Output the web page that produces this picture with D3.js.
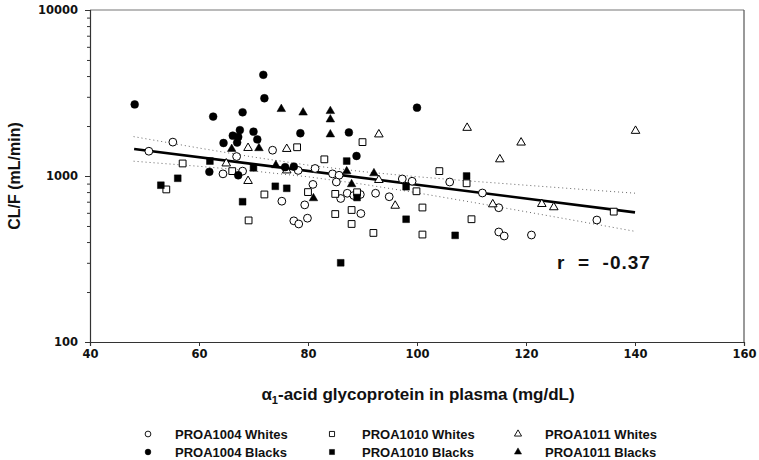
<!DOCTYPE html>
<html><head><meta charset="utf-8">
<script src="https://cdn.jsdelivr.net/npm/d3@7"></script>
<style>body{margin:0;background:#fff}svg{display:block}</style>
</head><body>
<svg id="c" width="759" height="460"></svg>
<script>
// ---- data ----
const xTicks = [40, 60, 80, 100, 120, 140, 160];
const yTicks = [100, 1000, 10000];
const yMinor = [200,300,400,500,600,700,800,900,2000,3000,4000,5000,6000,7000,8000,9000];

const whites1004 = [[50.8,1410],[55.2,1600],[66.9,1310],[73.5,1430],[64.4,1030],[68.0,1070],[78.2,1080],[81.3,1110],[84.5,1030],[85.7,1010],[97.3,960],[99.1,930],[106.0,920],[112.0,790],[80.9,890],[85.2,920],[79.4,670],[75.2,705],[79.9,557],[77.4,537],[78.3,514],[87.2,787],[86.0,732],[88.4,763],[89.6,774],[92.4,787],[94.9,750],[89.7,594],[115.0,644],[115.0,460],[116.0,435],[121.0,441],[133.0,543]];
const blacks1004 = [[48.2,2700],[71.8,4070],[72.0,2940],[62.6,2280],[68.0,2420],[67.5,1890],[66.2,1750],[67.2,1720],[67.0,1590],[70.0,1850],[70.7,1660],[64.5,1580],[78.6,1810],[87.5,1830],[100.0,2580],[88.9,1320],[75.8,1130],[77.4,1140],[61.9,1060],[67.2,1010]];
const whites1010 = [[57.0,1190],[54.0,830],[66.1,1070],[72.0,774],[69.1,540],[78.0,1490],[83.0,1260],[90.0,1600],[80.0,800],[85.0,780],[89.0,798],[85.0,590],[88.0,624],[88.0,514],[92.0,454],[99.9,809],[101.0,646],[101.0,444],[104.1,1070],[109.1,904],[110.0,549],[136.1,610]];
const blacks1010 = [[53.0,880],[56.1,969],[62.0,1230],[70.0,1120],[68.0,700],[74.0,867],[76.1,843],[87.1,1230],[89.0,742],[98.0,862],[98.0,549],[86.0,300],[107.0,439],[109.1,1000]];
const whites1011 = [[69.0,1475],[76.1,1455],[65.0,1190],[76.1,1080],[69.0,933],[93.0,1780],[93.0,946],[96.0,662],[109.2,1950],[115.2,1260],[119.1,1590],[113.9,675],[122.9,678],[125.1,648],[140.1,1870]];
const blacks1011 = [[75.1,2530],[79.1,2410],[84.1,2460],[84.1,2190],[84.1,1780],[66.0,1455],[71.0,1470],[74.1,1160],[87.1,1067],[92.1,1038],[81.0,734],[88.0,892]];

const fitX = [48.1, 140];
const fitY = [1455, 604];
const bandX = [48, 60, 70, 80, 90, 100, 110, 120, 130, 140];
const bandUpper = [1727, 1474, 1300, 1163, 1063, 990, 931, 880, 832, 788];
const bandLower = [1228, 1144, 1071, 989, 893, 792, 696, 609, 532, 464];

const legendLabels = ["PROA1004 Whites","PROA1010 Whites","PROA1011 Whites","PROA1004 Blacks","PROA1010 Blacks","PROA1011 Blacks"];

// ---- drawing ----
const svg = d3.select("#c");
const x = d3.scaleLinear().domain([40,160]).range([90,744]);
const y = d3.scaleLog().domain([100,10000]).range([342,10]);
const tickFont = "'DejaVu Sans', sans-serif";
const titleFont = "'Liberation Sans', Arial, sans-serif";

// frame (top & right)
svg.append("line").attr("x1",90).attr("x2",744).attr("y1",10).attr("y2",10).attr("stroke","#777").attr("stroke-width",1.2);
svg.append("line").attr("x1",744).attr("x2",744).attr("y1",10).attr("y2",342).attr("stroke","#555").attr("stroke-width",1.2);

// axes
const gx = svg.append("g").attr("transform","translate(0,342)")
  .call(d3.axisBottom(x).tickValues(xTicks).tickSize(4).tickPadding(4).tickFormat(d3.format("d")));
const gy = svg.append("g").attr("transform","translate(90,0)")
  .call(d3.axisLeft(y).tickValues(yTicks).tickSize(5).tickPadding(7).tickFormat(d3.format("d")));
svg.append("g").attr("transform","translate(90,0)")
  .call(d3.axisLeft(y).tickValues(yMinor).tickSize(3).tickFormat(""))
  .call(g=>g.select(".domain").remove());
svg.selectAll(".domain").attr("stroke","#333").attr("stroke-width",1.2);
svg.selectAll(".tick line").attr("stroke","#333");
[gx,gy].forEach(g=>g.selectAll("text").attr("font-family",tickFont).attr("font-weight","bold").attr("font-size",11.5).attr("fill","#111"));

// confidence band
const bandLine = (arr)=> d3.line().x((d,i)=>x(bandX[i])).y(d=>y(d))(arr);
[bandUpper, bandLower].forEach(b=>{
  svg.append("path").attr("d",bandLine(b)).attr("fill","none").attr("stroke","#666")
    .attr("stroke-width",1).attr("stroke-dasharray","1,3");
});
// regression line
svg.append("path").attr("d", d3.line().x((d,i)=>x(fitX[i])).y(d=>y(d))(fitY))
  .attr("fill","none").attr("stroke","#000").attr("stroke-width",2.6);

// points
const shapes = {
  circle: d3.symbol().type(d3.symbolCircle).size(48),
  square: d3.symbol().type(d3.symbolSquare).size(46),
  triangle: d3.symbol().type(d3.symbolTriangle).size(32)
};
const series = [
  {data:whites1004, shape:"circle", filled:false},
  {data:whites1010, shape:"square", filled:false},
  {data:whites1011, shape:"triangle", filled:false},
  {data:blacks1004, shape:"circle", filled:true},
  {data:blacks1010, shape:"square", filled:true},
  {data:blacks1011, shape:"triangle", filled:true}
];
series.forEach(s=>{
  svg.append("g").selectAll("path").data(s.data).join("path")
    .attr("transform",d=>`translate(${x(d[0])},${y(d[1])})`)
    .attr("d",shapes[s.shape]())
    .attr("fill",s.filled?"#000":"#fff")
    .attr("stroke","#000").attr("stroke-width",s.filled?0.5:1);
});

// r label
svg.append("text").attr("x",557).attr("y",269).attr("font-family",titleFont).attr("font-weight","bold")
  .attr("font-size",19).attr("letter-spacing",1).attr("fill","#111").attr("xml:space","preserve").text("r  =  -0.37");

// axis titles
svg.append("text").attr("transform","translate(20,176) rotate(-90)").attr("text-anchor","middle")
  .attr("font-family",titleFont).attr("font-weight","bold").attr("font-size",16).attr("fill","#111").text("CL/F (mL/min)");
const xt = svg.append("text").attr("x",418).attr("y",400).attr("text-anchor","middle")
  .attr("font-family",titleFont).attr("font-weight","bold").attr("font-size",17).attr("fill","#111");
xt.append("tspan").text("α");
xt.append("tspan").attr("font-size",11).attr("dy",4).text("1");
xt.append("tspan").attr("dy",-4).text("-acid glycoprotein in plasma (mg/dL)");

// legend
const legX = [148, 332, 518], legTX = [175, 362, 545], legY = [434, 452];
const legShapes = {
  circle: d3.symbol().type(d3.symbolCircle).size(26),
  square: d3.symbol().type(d3.symbolSquare).size(26),
  triangle: d3.symbol().type(d3.symbolTriangle).size(22)
};
series.forEach((s,i)=>{
  const col = i%3, row = Math.floor(i/3);
  svg.append("path").attr("transform",`translate(${legX[col]},${legY[row]})`)
    .attr("d",legShapes[s.shape]()).attr("fill",s.filled?"#000":"#fff").attr("stroke","#000").attr("stroke-width",s.filled?0.5:0.9);
  svg.append("text").attr("x",legTX[col]).attr("y",legY[row]+5).attr("font-family",titleFont)
    .attr("font-weight","bold").attr("font-size",13).attr("fill","#111").text(legendLabels[i]);
});
</script>
</body></html>
